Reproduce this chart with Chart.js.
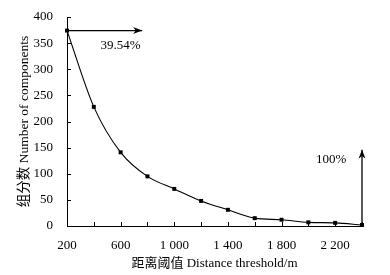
<!DOCTYPE html>
<html><head><meta charset="utf-8">
<script src="https://cdn.jsdelivr.net/npm/chart.js@4/dist/chart.umd.min.js"></script>
<style>html,body{margin:0;padding:0;background:#fff}#w{width:390px;height:275px}</style>
</head><body><div id="w"><canvas id="c"></canvas></div>
<script>
const distances = [200,400,600,800,1000,1200,1400,1600,1800,2000,2200,2400];
const components = [374,228,141,95,71,48,31,15,12,7,6,2];
const xLabelTicks = [200,600,1000,1400,1800,2200];
const arrowH = {x0:200, x1:760, y:374, label:'39.54%', lx:600, ly:346};
const arrowV = {x:2400, y0:0, y1:146, label:'100%', lx:2170, ly:127};
const xTitle = '距离阈值 Distance threshold/m';
const yTitle = '组分数 Number of components';

const FONT = "'Liberation Serif','Noto Sans CJK SC',serif";
function fmt(v){ return String(v).replace(/\B(?=(\d{3})+(?!\d))/g,' '); }

const annot = {
  id:'annot',
  afterDraw(chart){
    const ctx=chart.ctx, xs=chart.scales.x, ys=chart.scales.y, a=chart.chartArea;
    ctx.save();
    ctx.strokeStyle='#000'; ctx.lineWidth=1;
    ctx.beginPath();
    for(let v=0; v<=400; v+=50){ const py=Math.round(ys.getPixelForValue(v))+0.5; ctx.moveTo(a.left,py); ctx.lineTo(a.left+4,py); }
    for(let v=200; v<=2400; v+=200){ const px=Math.round(xs.getPixelForValue(v))+0.5; ctx.moveTo(px,a.bottom); ctx.lineTo(px,a.bottom-4); }
    ctx.stroke();
    function arrow(x0,y0,x1,y1){
      ctx.beginPath(); ctx.moveTo(x0,y0); ctx.lineTo(x1,y1); ctx.lineWidth=1.3; ctx.stroke();
      const ang=Math.atan2(y1-y0,x1-x0), L=9, W=3.5;
      ctx.beginPath();
      ctx.moveTo(x1,y1);
      ctx.lineTo(x1-L*Math.cos(ang)+W*Math.sin(ang), y1-L*Math.sin(ang)-W*Math.cos(ang));
      ctx.lineTo(x1-L*0.7*Math.cos(ang), y1-L*0.7*Math.sin(ang));
      ctx.lineTo(x1-L*Math.cos(ang)-W*Math.sin(ang), y1-L*Math.sin(ang)+W*Math.cos(ang));
      ctx.closePath(); ctx.fillStyle='#000'; ctx.fill();
    }
    const hy=ys.getPixelForValue(arrowH.y);
    arrow(xs.getPixelForValue(arrowH.x0),hy,xs.getPixelForValue(arrowH.x1),hy);
    const vx=xs.getPixelForValue(arrowV.x);
    arrow(vx,ys.getPixelForValue(arrowV.y0),vx,ys.getPixelForValue(arrowV.y1));
    ctx.font="13px "+FONT; ctx.fillStyle='#000'; ctx.textAlign='center'; ctx.textBaseline='middle';
    ctx.fillText(arrowH.label, xs.getPixelForValue(arrowH.lx), ys.getPixelForValue(arrowH.ly));
    ctx.fillText(arrowV.label, xs.getPixelForValue(arrowV.lx), ys.getPixelForValue(arrowV.ly));
    ctx.restore();
  }
};

new Chart(document.getElementById('c'),{
  type:'line',
  data:{datasets:[{
    data: distances.map((d,i)=>({x:d,y:components[i]})),
    borderColor:'#000', borderWidth:1.1, backgroundColor:'#000',
    pointStyle:'rect', pointRadius:2.8, pointBorderWidth:0,
    cubicInterpolationMode:'monotone', clip:false
  }]},
  options:{
    responsive:true, maintainAspectRatio:false, animation:false,
    layout:{padding:{top:17,right:28,left:0,bottom:0}},
    plugins:{legend:{display:false},tooltip:{enabled:false}},
    scales:{
      x:{type:'linear',min:200,max:2400,
        afterBuildTicks(s){ s.ticks=xLabelTicks.map(v=>({value:v})); },
        afterFit(s){ s.height=49; },
        grid:{display:false}, border:{display:true,color:'#000',width:1},
        ticks:{color:'#000',padding:4,maxRotation:0,font:{family:FONT,size:13},callback:v=>fmt(v)},
        title:{display:true,text:xTitle,color:'#000',padding:{top:6},font:{family:FONT,size:13}}
      },
      y:{min:0,max:400,
        afterFit(s){ s.width=67; },
        grid:{display:false}, border:{display:true,color:'#000',width:1},
        ticks:{stepSize:50,color:'#000',padding:6,font:{family:FONT,size:13}},
        title:{display:true,text:yTitle,color:'#000',padding:{top:16,bottom:2},font:{family:FONT,size:13.5}}
      }
    }
  },
  plugins:[annot]
});
</script></body></html>
